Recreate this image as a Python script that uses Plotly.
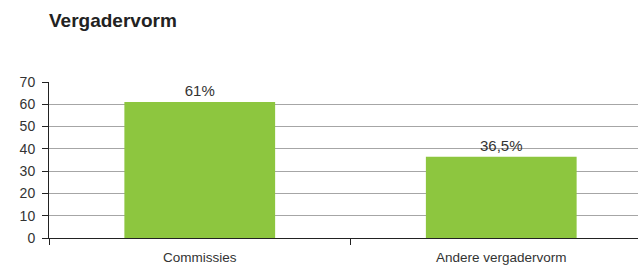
import plotly.graph_objects as go

categories = ["Commissies", "Andere vergadervorm"]
values = [61, 36.5]
value_labels = ["61%", "36,5%"]
y_ticks = [0, 10, 20, 30, 40, 50, 60, 70]

FONT = "Liberation Sans, Arial"

fig = go.Figure()
fig.add_trace(go.Bar(
    x=categories, y=values, width=0.5,
    marker=dict(color="#8DC63F", line=dict(width=0)),
    text=value_labels, textposition="outside",
    textfont=dict(family=FONT, size=15, color="#333333"),
    cliponaxis=False, hoverinfo="skip",
))
fig.update_layout(
    width=652, height=265,
    margin=dict(l=49, r=0, t=82, b=27, autoexpand=False),
    paper_bgcolor="white", plot_bgcolor="white",
    showlegend=False,
    font=dict(family=FONT, size=13.5, color="#333333"),
    title=dict(text="<b>Vergadervorm</b>", x=0, xref="paper", xanchor="left",
               y=0.925, yref="container", yanchor="middle",
               font=dict(family=FONT, size=19, color="#222222")),
    xaxis=dict(range=[-0.5, 1.5], tickson="boundaries", ticks="outside", ticklen=6,
               tickcolor="#222222", showline=True, linecolor="#222222", linewidth=1,
               showgrid=False, ticklabelstandoff=7, automargin=False,
               tickfont=dict(size=13.5)),
    yaxis=dict(range=[0, 70], tickvals=y_ticks, ticks="outside", ticklen=6,
               tickcolor="#222222", showline=True, linecolor="#222222", linewidth=1,
               showgrid=True, gridcolor="#a6a6a6", gridwidth=1, zeroline=False,
               automargin=False, ticklabelstandoff=4, tickfont=dict(size=14)),
)
fig.write_html("out.html", config={"displayModeBar": False, "staticPlot": True},
               post_script="document.body.style.margin='0';document.body.style.overflow='hidden';")
